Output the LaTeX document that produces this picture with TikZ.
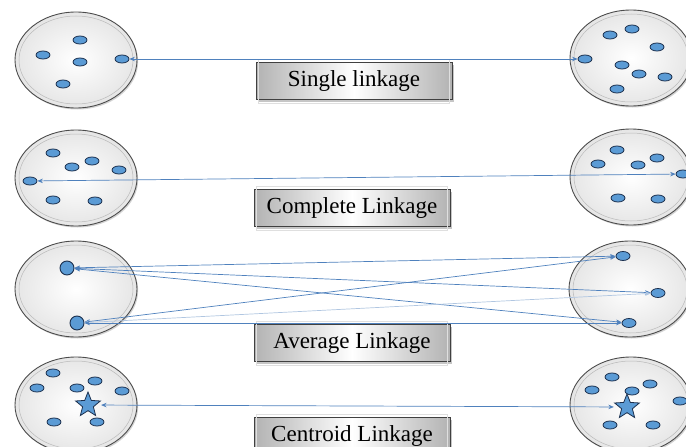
\documentclass[tikz,border=0pt]{standalone}
\usepackage{fontspec}
\setmainfont{Liberation Serif}
\usetikzlibrary{shapes.geometric,arrows.meta,shadows,calc}

\definecolor{dotfill}{RGB}{91,155,213}
\definecolor{dotline}{RGB}{28,48,78}
\definecolor{linkblue}{RGB}{79,129,189}

\tikzset{
  dish/.style={ellipse, minimum width=122pt, minimum height=96pt, inner sep=0pt,
    draw=black!70, line width=0.9pt, inner color=white, outer color=gray!20,
    drop shadow={shadow xshift=1.2pt, shadow yshift=-1.5pt, opacity=0.35}},
  dot/.style={ellipse, minimum width=14pt, minimum height=8pt, inner sep=0pt,
    fill=dotfill, draw=dotline, line width=0.8pt},
  bigdot/.style={circle, minimum size=14pt, inner sep=0pt,
    fill=dotfill, draw=dotline, line width=0.9pt},
  centroid/.style={star, star points=5, star point ratio=2.3, minimum size=26pt,
    inner sep=0pt, fill=dotfill, draw=dotline, line width=0.8pt},
  link/.style={linkblue, line width=0.7pt,
    {Stealth[length=5.5pt,width=4.5pt]}-{Stealth[length=5.5pt,width=4.5pt]}},
  tag/.style={draw=black!75, line width=0.8pt, minimum width=196pt, minimum height=37pt,
    left color=gray!60, right color=gray!60, middle color=white,
    font=\fontsize{23}{26}\selectfont,
    drop shadow={shadow xshift=2pt, shadow yshift=-2pt, opacity=0.45}},
}

\newcommand{\innerring}[1]{\draw[gray!55, line width=0.5pt] (#1) ellipse (57pt and 44pt);}
\newcommand{\innerframe}[1]{\draw[gray!25, line width=0.8pt]
  ($(#1.south west)+(3,3)$) rectangle ($(#1.north east)+(-3,-3)$);}

\begin{document}
\begin{tikzpicture}[x=1pt, y=-1pt]
\useasboundingbox (0,0) rectangle (686,447);
\clip (0,0) rectangle (686,447);

% dishes
\foreach \n/\p in {L1/{76,60}, R1/{631,58}, L2/{76,178}, R2/{631,177},
                   L3/{76,289}, R3/{630,289}, L4/{76,405}, R4/{631,405}}{
  \node[dish] (\n) at (\p) {};
  \innerring{\n}
}

% method labels
\node[tag] (t1) at (354,81) {Single linkage};
\node[tag] (t2) at (352,208) {Complete Linkage};
\node[tag] (t3) at (352,343) {Average Linkage};
\node[tag] (t4) at (352,436) {Centroid Linkage};
\foreach \t in {t1,t2,t3,t4}{\innerframe{\t}}

% single linkage points
\node[dot] (a1) at (80,40) {};
\node[dot] (a2) at (43,55) {};
\node[dot] (a3) at (80,62) {};
\node[dot] (a4) at (122,59) {};
\node[dot] (a5) at (63,84) {};
\node[dot] (b1) at (632,29) {};
\node[dot] (b2) at (610,35) {};
\node[dot] (b3) at (657,47) {};
\node[dot] (b4) at (585,59) {};
\node[dot] (b5) at (622,65) {};
\node[dot] (b6) at (639,74) {};
\node[dot] (b7) at (665,77) {};
\node[dot] (b8) at (617,89) {};

% complete linkage points
\node[dot] (c1) at (53,153) {};
\node[dot] (c2) at (72,167) {};
\node[dot] (c3) at (92,161) {};
\node[dot] (c4) at (119,170) {};
\node[dot] (c5) at (30,181) {};
\node[dot] (c6) at (53,200) {};
\node[dot] (c7) at (95,201) {};
\node[dot] (d1) at (617,150) {};
\node[dot] (d2) at (598,164) {};
\node[dot] (d3) at (638,165) {};
\node[dot] (d4) at (657,158) {};
\node[dot] (d5) at (683,174) {};
\node[dot] (d6) at (618,198) {};
\node[dot] (d7) at (658,199) {};

% average linkage points
\node[bigdot] (e1) at (67,268) {};
\node[bigdot] (e2) at (77,323) {};
\node[dot, minimum height=9pt] (f1) at (623,256) {};
\node[dot, minimum height=9pt] (f2) at (658,293) {};
\node[dot, minimum height=9pt] (f3) at (629,323) {};

% centroid linkage points
\node[dot] (g1) at (53,373) {};
\node[dot] (g2) at (37,388) {};
\node[dot] (g3) at (77,388) {};
\node[dot] (g4) at (95,381) {};
\node[dot] (g5) at (122,391) {};
\node[dot] (g6) at (54,422) {};
\node[dot] (g7) at (97,422) {};
\node[centroid] (gs) at (88,405) {};
\node[dot] (h1) at (612,377) {};
\node[dot] (h2) at (592,390) {};
\node[dot] (h3) at (632,391) {};
\node[dot] (h4) at (650,384) {};
\node[dot] (h5) at (680,401) {};
\node[dot] (h6) at (610,425) {};
\node[dot] (h7) at (653,425) {};
\node[centroid] (hs) at (627,407) {};

% linkage distances
\draw[link] (a4) -- (b4);
\draw[link] (c5) -- (d5);
\draw[link] (e1) -- (f1);
\draw[link] (e1) -- (f2);
\draw[link] (e1) -- (f3);
\draw[link] (e2) -- (f1);
\draw[link, linkblue!45] (e2) -- (f2);
\draw[link] (e2) -- (f3);
\draw[link, shorten <=5pt, shorten >=5pt] (gs) -- (hs);
\end{tikzpicture}
\end{document}
